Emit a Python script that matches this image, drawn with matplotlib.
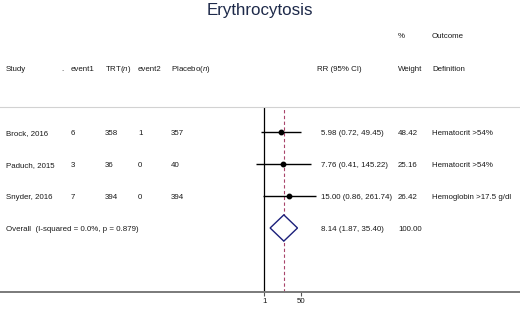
import matplotlib
matplotlib.use("Agg", force=True)

import numpy as np
import matplotlib.pyplot as plt

plt.rcParams["font.family"] = ["Liberation Sans", "DejaVu Sans"]
plt.rcParams["mathtext.fontset"] = "custom"
plt.rcParams["mathtext.rm"] = "Liberation Sans"
plt.rcParams["mathtext.it"] = "Liberation Sans:italic"

# --------------------------
# data
# --------------------------
title = "Erythrocytosis"
studies = ["Brock, 2016", "Paduch, 2015", "Snyder, 2016"]
event1 = [6, 3, 7]
trt_n = [358, 36, 394]
event2 = [1, 0, 0]
placebo_n = [357, 40, 394]
rr = [5.98, 7.76, 15.00]
ci_lo = [0.72, 0.41, 0.86]
ci_hi = [49.45, 145.22, 261.74]
weights = [48.42, 25.16, 26.42]
outcomes = ["Hematocrit >54%", "Hematocrit >54%", "Hemoglobin >17.5 g/dl"]

overall_label = "Overall  (I-squared = 0.0%, p = 0.879)"
overall_rr = 8.14
overall_lo = 1.87
overall_hi = 35.40
overall_weight = 100.00

tick_vals = [1, 50]
tick_labels = ["1", "50"]

# --------------------------
# layout (pixels, 520 x 309 canvas)
# --------------------------
W, H = 520, 309
txt_color = "#1a1a1a"
fs = 5.7
base_off = 2.9                     # baseline offset below visual centre (px)

row_y0, row_dy = 132, 32          # pixel y of first row, row spacing
top_line_y, axis_y = 107.3, 292.3
null_x, px_per_ln = 264.3, 9.305   # where RR=1 sits and scale of the log axis

fig = plt.figure(figsize=(W / 100, H / 100), dpi=100)

# background axes in pixel coordinates for the table text
bg = fig.add_axes([0, 0, 1, 1])
bg.set_xlim(0, W)
bg.set_ylim(H, 0)
bg.axis("off")

# forest axes: log x, rows on y, spans full width between the two rules
to_row = lambda y: (y - row_y0) / row_dy
ax = fig.add_axes([0, (H - axis_y) / H, 1, (axis_y - top_line_y) / H])
ax.set_facecolor("none")
ax.set_xscale("log")
ax.set_xlim(np.exp(-null_x / px_per_ln), np.exp((W - null_x) / px_per_ln))
ax.set_ylim(to_row(axis_y), to_row(top_line_y))

for side in ["left", "right"]:
    ax.spines[side].set_visible(False)
ax.spines["top"].set_color("#d2d2d2")
ax.spines["top"].set_linewidth(0.8)
ax.spines["bottom"].set_color("#7a7a7a")
ax.spines["bottom"].set_linewidth(1.4)

ax.set_yticks([])
ax.xaxis.set_minor_locator(matplotlib.ticker.NullLocator())
ax.set_xticks(tick_vals)
ax.set_xticklabels(tick_labels, fontsize=fs, color=txt_color)
ax.tick_params(axis="x", direction="out", length=3.2, width=0.8,
               color="#555555", pad=1.2)

# reference lines
ax.axvline(1, color="black", linewidth=0.9, zorder=2)
ax.axvline(overall_rr, color="#a8446a", linewidth=0.8,
           linestyle=(0, (3, 2.2)), zorder=2)

# study estimates
rows = np.arange(len(studies))
ax.hlines(rows, ci_lo, ci_hi, color="black", linewidth=1.0, zorder=3)
ax.plot(rr, rows, "o", color="black", markersize=3.2, zorder=4)

# overall diamond
r_all = len(studies)
h = 0.41
ax.fill([overall_lo, overall_rr, overall_hi, overall_rr, overall_lo],
        [r_all, r_all - h, r_all, r_all + h, r_all],
        facecolor="white", edgecolor="#1b1f7a", linewidth=1.0, zorder=4)

# --------------------------
# title and table text
# --------------------------
bg.text(W / 2, 10, title, ha="center", va="center", fontsize=12.2,
        color="#1e2a4a")


def put(x, y, s):
    bg.text(x, y + base_off, s, fontsize=fs, color=txt_color,
            va="baseline", ha="left")


put(398, 35, "%")
put(432, 35, "Outcome")

hy = 68
put(6, hy, "Study")
put(61, hy, ".")
put(71, hy, "event1")
put(105, hy, "TRT($\\mathit{n}$)")
put(138, hy, "event2")
put(171, hy, "Placebo($\\mathit{n}$)")
put(317, hy, "RR (95% CI)")
put(398, hy, "Weight")
put(432, hy, "Definition")

for i, name in enumerate(studies):
    y = row_y0 + i * row_dy
    put(6, y, name)
    put(71, y, str(event1[i]))
    put(105, y, str(trt_n[i]))
    put(138, y, str(event2[i]))
    put(171, y, str(placebo_n[i]))
    put(321, y, f"{rr[i]:.2f} ({ci_lo[i]:.2f}, {ci_hi[i]:.2f})")
    put(398, y, f"{weights[i]:.2f}")
    put(432, y, outcomes[i])

y = row_y0 + r_all * row_dy
put(6, y, overall_label)
put(321, y, f"{overall_rr:.2f} ({overall_lo:.2f}, {overall_hi:.2f})")
put(398, y, f"{overall_weight:.2f}")

fig.savefig("out.png", dpi=100)
plt.close(fig)
